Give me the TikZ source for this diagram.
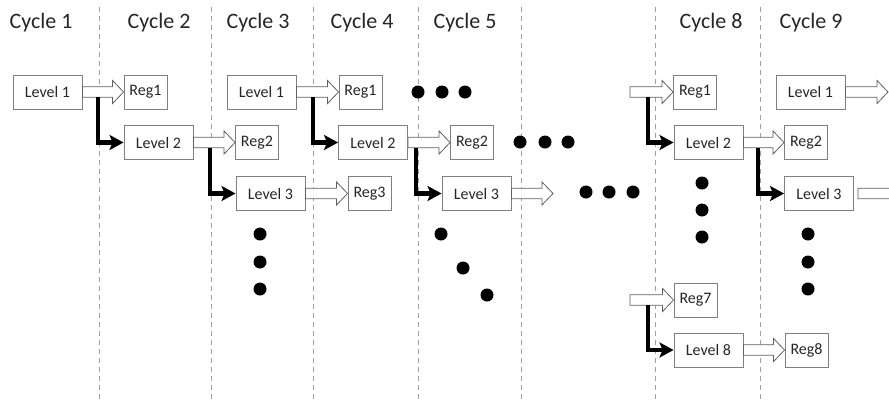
\documentclass[tikz,border=0pt]{standalone}
\usepackage{fontspec}
\setmainfont{Carlito}
\usetikzlibrary{arrows.meta,calc}
\definecolor{boxgray}{HTML}{7F7F7F}
\definecolor{arrgray}{HTML}{606060}
\definecolor{sepgray}{HTML}{A0A0A0}
\definecolor{txt}{HTML}{262626}
\newcommand{\harr}[2]{\path[harrow] let \p1=(#1), \p2=(#2) in
  (\x1,{\y1+5.3pt}) -- ({\x2-11pt},{\y1+5.3pt}) -- ({\x2-11pt},{\y1+11.5pt}) --
  (\x2,\y1) -- ({\x2-11pt},{\y1-11.5pt}) -- ({\x2-11pt},{\y1-5.3pt}) --
  (\x1,{\y1-5.3pt}) -- cycle;}
\begin{document}
\begin{tikzpicture}[x=1pt,y=-1pt,
 box/.style={draw=boxgray, line width=0.9pt, fill=white, minimum height=34pt, inner sep=0pt, font=\fontsize{16}{18}\selectfont, text=txt},
 lvl/.style={box, minimum width=69pt},
 reg/.style={box, minimum width=43pt},
 harrow/.style={draw=arrgray, line width=0.8pt, fill=white, line join=miter},
 tarrow/.style={line width=4.2pt, -{Stealth[length=14pt,width=15pt,inset=3pt]}, line join=miter},
 cyc/.style={font=\fontsize{22}{26}\selectfont, text=txt},
 sep/.style={draw=sepgray, line width=0.9pt, dash pattern=on 5pt off 4pt},
 bdot/.style={fill=black, circle, inner sep=0pt, minimum size=13pt}]
\clip (0,0) rectangle (889,405);
\fill[white] (0,0) rectangle (889,405);

% separators
\foreach \xx/\nm in {99/s1,211/s2,313/s3,418/s4,521/s5,655/s6,760/s7}{
  \coordinate (\nm t) at (\xx,7);
  \coordinate (\nm b) at (\xx,402);
  \draw[sep] (\nm t) -- (\nm b);
}

% cycle labels
\node[cyc] (c1) at (41,23) {Cycle 1};
\node[cyc] (c2) at (159,23) {Cycle 2};
\node[cyc] (c3) at (258,23) {Cycle 3};
\node[cyc] (c4) at (362,23) {Cycle 4};
\node[cyc] (c5) at (465,23) {Cycle 5};
\node[cyc] (c8) at (711,23) {Cycle 8};
\node[cyc] (c9) at (811,23) {Cycle 9};

% boxes
\node[lvl] (L1a) at (47.5,92) {Level 1};
\node[reg] (R1a) at (145.5,92) {Reg1};
\node[lvl] (L2a) at (158.5,142.5) {Level 2};
\node[reg] (R2a) at (257,142.5) {Reg2};
\node[lvl] (L3a) at (270.5,193.5) {Level 3};
\node[reg] (R3a) at (369.5,193.5) {Reg3};

\node[lvl] (L1b) at (261.5,92) {Level 1};
\node[reg] (R1b) at (360.5,92) {Reg1};
\node[lvl] (L2b) at (373,142.5) {Level 2};
\node[reg] (R2b) at (472,142.5) {Reg2};
\node[lvl] (L3b) at (476.5,193.5) {Level 3};

\node[reg] (R1c) at (695,92) {Reg1};
\node[lvl] (L2c) at (708.5,142.5) {Level 2};
\node[reg] (R2c) at (806,142.5) {Reg2};
\node[lvl] (L3c) at (819,193.5) {Level 3};
\node[lvl] (L1d) at (810.5,92) {Level 1};

\node[reg] (R7) at (695.5,300) {Reg7};
\node[lvl] (L8) at (708.5,350) {Level 8};
\node[reg] (R8) at (806.5,350) {Reg8};

% free ends
\coordinate (e3b) at (553,193.5);
\coordinate (s1c) at (630,92);
\coordinate (s3c) at (858,193.5);
\coordinate (e3c) at (905,193.5);
\coordinate (e1d) at (888,92);
\coordinate (s7) at (630,300);

% hollow arrows
\harr{L1a.east}{R1a.west}
\harr{L2a.east}{R2a.west}
\harr{L3a.east}{R3a.west}
\harr{L1b.east}{R1b.west}
\harr{L2b.east}{R2b.west}
\harr{L3b.east}{e3b}
\harr{s1c}{R1c.west}
\harr{L2c.east}{R2c.west}
\harr{s3c}{e3c}
\harr{L1d.east}{e1d}
\harr{s7}{R7.west}
\harr{L8.east}{R8.west}

% thick arrows
\coordinate (k1) at (98,97.3);
\coordinate (k2) at (210,147.8);
\coordinate (k3) at (313,97.3);
\coordinate (k4) at (416,147.8);
\coordinate (k5) at (648,97.3);
\coordinate (k6) at (758,147.8);
\coordinate (k7) at (648,305.3);
\draw[tarrow] (k1) |- (L2a.west);
\draw[tarrow] (k2) |- (L3a.west);
\draw[tarrow] (k3) |- (L2b.west);
\draw[tarrow] (k4) |- (L3b.west);
\draw[tarrow] (k5) |- (L2c.west);
\draw[tarrow] (k6) |- (L3c.west);
\draw[tarrow] (k7) |- (L8.west);

% dots
\foreach \xx/\yy [count=\i] in {418/92,442/92,465/92,
  520/142,545/142,568/142,
  586/192,609/192,633/192,
  260/234,260/262,260/289,
  441/234,463/268,487/295,
  702/183,702/210,702/237,
  808/234,808/262,808/289}{
  \node[bdot] (d\i) at (\xx,\yy) {};
}
\end{tikzpicture}
\end{document}
